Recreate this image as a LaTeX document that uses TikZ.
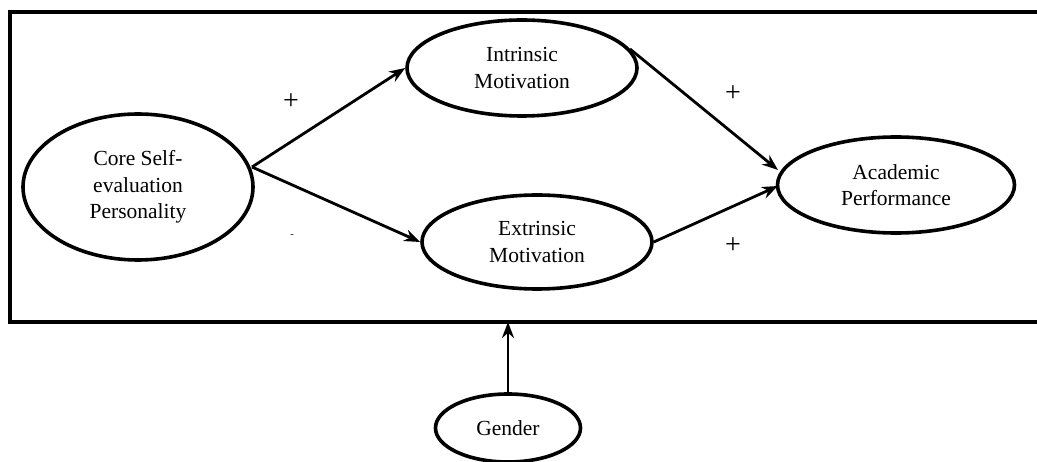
\documentclass[tikz,border=0pt]{standalone}
\usepackage{fontspec}
\setmainfont{Liberation Serif}
\usetikzlibrary{shapes.geometric,arrows.meta}
\begin{document}
\begin{tikzpicture}[x=1pt,y=-1pt,
  var/.style={draw,ellipse,line width=3.6pt,inner sep=0pt,align=center,
    font=\fontsize{21.5}{26.5}\selectfont},
  link/.style={line width=2.8pt,-{Stealth[length=16pt,width=12pt]}},
  sign/.style={font=\fontsize{28}{30}\selectfont}]
\useasboundingbox (0,0) rectangle (1037,462);
\fill[white] (0,0) rectangle (1037,462);
\draw[line width=4.2pt] (10,12) rectangle (1060,322);
\coordinate (boxbot) at (508,322);
\node[var,minimum width=230pt,minimum height=146pt] (cse) at (138,187) {Core Self-\\evaluation\\Personality};
\node[var,minimum width=230pt,minimum height=96pt] (im) at (522,68) {Intrinsic\\Motivation};
\node[var,minimum width=230pt,minimum height=94pt] (em) at (537,242) {Extrinsic\\Motivation};
\node[var,minimum width=237pt,minimum height=96pt] (ap) at (896,185) {Academic\\Performance};
\node[var,minimum width=145pt,minimum height=68pt] (g) at (508,428) {Gender};
\coordinate (cseR) at (252,167);
\draw[link] (cseR) -- (im.west);
\draw[link] (cseR) -- (em.west);
\draw[link] (im.10) -- (778,170);
\draw[link] (em.east) -- (778,186);
\draw[link] (g.north) -- (boxbot);
\node[sign] (p1) at (291,102) {+};
\node[font=\fontsize{10}{12}\selectfont] (m1) at (292,236) {-};
\node[sign] (p2) at (733,94) {+};
\node[sign] (p3) at (733,246) {+};
\end{tikzpicture}
\end{document}
